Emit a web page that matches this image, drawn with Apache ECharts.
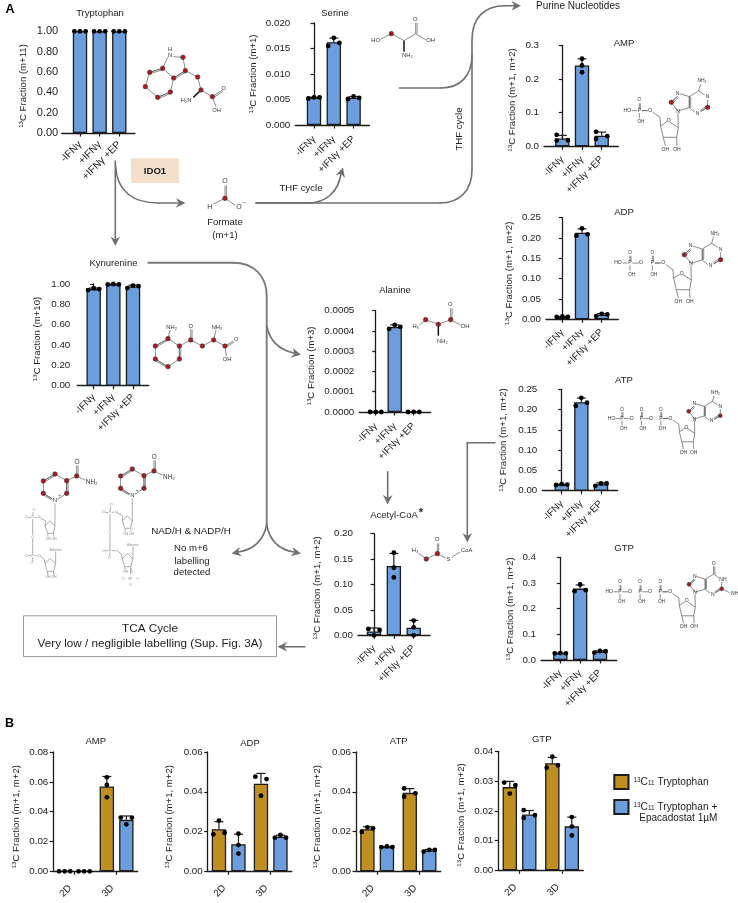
<!DOCTYPE html>
<html><head><meta charset="utf-8">
<style>html,body{margin:0;padding:0;background:#fff}#c{width:738px;height:903px}</style>
<script src="https://cdn.jsdelivr.net/npm/echarts@6/dist/echarts.min.js"></script>
</head><body><div id="c"></div>
<script>
// ---------- Data (three replicates per bar, left/centre/right) ----------
const conditionLabels = ['-IFNγ', '+IFNγ', '+IFNγ +EP'];
const cultureLabels = ['2D', '3D'];
const tryptophanValues = [[1, 1, 1], [1, 1, 1], [1, 1, 1]];
const serineValues = [[0.0052, 0.0054, 0.0054], [0.0155, 0.0171, 0.0161], [0.0051, 0.0056, 0.0053]];
const kynurenineValues = [[0.94, 0.96, 0.95], [0.995, 1.0, 0.995], [0.96, 0.985, 0.98]];
const alanineValues = [[0, 0, 0], [0.00041, 0.00043, 0.00042], [0, 0, 0]];
const acetylCoAValues = [[0.0125, 0.0, 0.0105], [0.1626, 0.133, 0.114], [0.029, 0.0157, 0.0]];
const ampValues = [[0.034, 0.017, 0.018], [0.26, 0.24, 0.22], [0.043, 0.022, 0.03]];
const adpValues = [[0.006, 0.007, 0.006], [0.2057, 0.2238, 0.209], [0.008, 0.0135, 0.012]];
const atpValues = [[0.014, 0.016, 0.015], [0.209, 0.229, 0.217], [0.012, 0.018, 0.018]];
const gtpValues = [[0.026, 0.027, 0.026], [0.268, 0.294, 0.272], [0.029, 0.035, 0.034]];
const ampTrpB = [[0, 0, 0], [0.063, 0.0579, 0.0496]];
const ampEpaB = [[0, 0, 0], [0.036, 0.0315, 0.036]];
const adpTrpB = [[0.0186, 0.0255, 0.0194], [0.0476, 0.038, 0.0464]];
const adpEpaB = [[0.0189, 0.0132, 0.0089], [0.0169, 0.0183, 0.0169]];
const atpTrpB = [[0.0198, 0.0221, 0.0216], [0.0417, 0.0375, 0.0392]];
const atpEpaB = [[0.0122, 0.0125, 0.0122], [0.0099, 0.0108, 0.0107]];
const gtpTrpB = [[0.0295, 0.0258, 0.0286], [0.0345, 0.0382, 0.0353]];
const gtpEpaB = [[0.0202, 0.0176, 0.0185], [0.0179, 0.0147, 0.0117]];
const seriesNameTrp = '13C11 Tryptophan';
const seriesNameEpa = '13C11 Tryptophan + Epacadostat 1µM';

// ---------- Layout and style ----------
const FONT = '"Liberation Sans", Arial, sans-serif';
const BLUE = '#6c9edd', GOLD = '#c08f22', INK = '#1c1c1c', GREY = '#707070';
const panelsA = [
  {t:'Tryptophan', v:tryptophanValues, m:'(m+11)', ymax:1, step:.2, d:2, l:61.7, tp:31.3, b:133, r:135, c:80, dc:19.65, tx:100, ty:13, nx:22, ny:86, fs:11, lm:3.5, xfs:10.2, xm:10},
  {t:'Serine', v:serineValues, m:'(m+1)', ymax:.02, step:.005, d:3, l:295.3, tp:23, b:125, r:369.5, c:314, dc:19.8, tx:335, ty:13, nx:252, ny:74, xm:12.5},
  {t:'Kynurenine', v:kynurenineValues, m:'(m+10)', ymax:1, step:.2, d:2, l:77.3, tp:284, b:385.7, r:148.7, c:93.7, dc:19.65, tx:113.5, ty:262.7, nx:36.7, ny:339, lm:7, xm:10},
  {t:'Alanine', v:alanineValues, m:'(m+3)', ymax:.0005, step:.0001, d:4, l:359.3, tp:310.7, b:412, r:430.7, c:375.7, dc:19, tx:395, ty:289.7, nx:310, ny:366, xm:12.5},
  {t:'Acetyl-CoA', v:acetylCoAValues, m:'(m+1, m+2)', ymax:.2, step:.05, d:2, l:358, tp:533.7, b:635.3, r:430, c:374, dc:19.85, tx:394, ty:515, nx:316.7, ny:588},
  {t:'AMP', v:ampValues, m:'(m+1, m+2)', ymax:.3, step:.1, d:1, l:544, tp:45.3, b:146.3, r:618.3, c:562.3, dc:19.7, tx:624, ty:42.7, nx:511.7, ny:100, off:{0:[-1,-1,1],2:[-1,-1,1]}},
  {t:'ADP', v:adpValues, m:'(m+1, m+2)', ymax:.25, step:.05, d:2, l:546, tp:217.7, b:319.3, r:618.3, c:562.3, dc:19.7, tx:624, ty:211.7, nx:508.3, ny:273.3},
  {t:'ATP', v:atpValues, m:'(m+1, m+2)', ymax:.25, step:.05, d:2, l:542.3, tp:389.3, b:490.7, r:617.7, c:561.7, dc:19.65, tx:624, ty:380, nx:502.7, ny:440},
  {t:'GTP', v:gtpValues, m:'(m+1, m+2)', ymax:.4, step:.1, d:1, l:541, tp:557.3, b:660, r:616.7, c:560.3, dc:19.85, tx:624, ty:547.7, nx:509, ny:609}
];
const panelsB = [
  {t:'AMP', a:ampTrpB, e:ampEpaB, ymax:.08, step:.02, l:53.3, tp:752, b:871.3, r:137.7, tx:95.7, ty:741, nx:15, ny:816.7},
  {t:'ADP', a:adpTrpB, e:adpEpaB, ymax:.06, step:.02, l:207.7, tp:752, b:871.3, r:291.7, tx:250, ty:742.7, nx:168.3, ny:816.7},
  {t:'ATP', a:atpTrpB, e:atpEpaB, ymax:.06, step:.02, l:356, tp:752, b:871.3, r:440.7, tx:398.7, ty:741, nx:316.7, ny:816.7, offA:{1:[-1,-1,1]}},
  {t:'GTP', a:gtpTrpB, e:gtpEpaB, ymax:.04, step:.01, l:498.3, tp:751.3, b:870.3, r:583.3, tx:541.7, ty:739.3, nx:460, ny:815, offE:{0:[-1,-1,1]}}
];

const mean = a => a.reduce((s, x) => s + x, 0) / a.length;
const sd = a => { const m = mean(a); return Math.sqrt(a.reduce((s, x) => s + (x - m) * (x - m), 0) / (a.length - 1)); };

// whisker (upward only) and the three replicate dots, placed through the axes
function dotsRender(shiftPx, overrides) {
  return function (params, api) {
    const x = api.value(0);
    const vals = [api.value(1), api.value(2), api.value(3)];
    const m = mean(vals), s = sd(vals);
    const p0 = api.coord([x, m]), p1 = api.coord([x, m + s]);
    const cx = p0[0] + shiftPx, kids = [];
    if (s > 0) {
      const ls = {stroke: INK, lineWidth: 1.2};
      kids.push({type: 'line', shape: {x1: cx, y1: p0[1], x2: cx, y2: p1[1]}, style: ls});
      kids.push({type: 'line', shape: {x1: cx - 4.5, y1: p1[1], x2: cx + 4.5, y2: p1[1]}, style: ls});
    }
    const ys = vals.map(v => api.coord([x, v])[1]);
    const sorted = ys.slice().sort((a, b) => a - b);
    const stacked = sorted[1] - sorted[0] >= 4.8 && sorted[2] - sorted[1] >= 4.8;
    const ov = overrides && overrides[params.dataIndex];
    ys.forEach((y, i) => {
      const o = ov ? ov[i] : (stacked ? 0 : i - 1);
      kids.push({type: 'circle', shape: {cx: cx + o * 5.6, cy: y, r: 2.4}, style: {fill: '#000'}});
    });
    return {type: 'group', children: kids};
  };
}

const grids = [], xAxes = [], yAxes = [], series = [], titles = [];
function yAxisOf(p, i, digits) {
  const shift = (p.tp + p.b) / 2 - p.ny;
  return {gridIndex: i, type: 'value', min: 0, max: p.ymax, interval: p.step,
    name: '{s|13}C Fraction ' + (p.m || '(m+1, m+2)'), nameLocation: 'middle', nameGap: p.l - p.nx - 6, nameRotate: 90,
    nameTextStyle: {fontFamily: FONT, fontSize: 9.6, color: INK, padding: shift > 0 ? [0, 0, 0, 2 * shift] : [0, 2 * -shift, 0, 0],
      rich: {s: {fontFamily: FONT, fontSize: 6.2, color: INK, padding: [0, 0, 4, 0]}}},
    axisLine: {show: true, lineStyle: {color: INK, width: 1.3}},
    axisTick: {show: true, length: 3.5, lineStyle: {color: INK, width: 1.2}},
    splitLine: {show: false},
    axisLabel: {fontFamily: FONT, fontSize: p.fs || 9.8, color: INK, margin: p.lm || 5, formatter: v => v.toFixed(digits)}};
}
const barItem = c => ({color: c, borderColor: INK, borderWidth: 1.3});
const titleOf = p => ({text: p.t, left: p.tx, top: p.ty - 4.5, textAlign: 'center', padding: 0, textStyle: {fontFamily: FONT, fontSize: 9.5, fontWeight: 'normal', color: INK}});

panelsA.forEach(p => {
  const i = grids.length;
  grids.push({left: p.l, top: p.tp, width: p.r - p.l, height: p.b - p.tp});
  titles.push(titleOf(p));
  xAxes.push({gridIndex: i, type: 'value', min: (p.l - p.c) / p.dc, max: (p.r - p.c) / p.dc,
    axisLine: {show: true, onZero: false, lineStyle: {color: INK, width: 1.3}},
    axisTick: {show: true, length: 3.5, customValues: [0, 1, 2], lineStyle: {color: INK, width: 1.2}},
    splitLine: {show: false},
    axisLabel: {customValues: [0, 1, 2], rotate: 45, align: 'right', verticalAlign: 'middle', margin: p.xm || 11.5, fontFamily: FONT, fontSize: p.xfs || 9.8, color: INK, hideOverlap: false, showMinLabel: true, showMaxLabel: true,
      formatter: v => conditionLabels[Math.round(v)]}});
  yAxes.push(yAxisOf(p, i, p.d));
  series.push({type: 'bar', name: p.t, xAxisIndex: i, yAxisIndex: i, barWidth: 14.4, itemStyle: barItem(BLUE),
    data: p.v.map((r, k) => [k, mean(r)])});
  series.push({type: 'custom', name: p.t + ' replicates', xAxisIndex: i, yAxisIndex: i, renderItem: dotsRender(0, p.off), z: 5,
    encode: {x: 0, y: [1, 2, 3]}, data: p.v.map((r, k) => [k, r[0], r[1], r[2]])});
});
const B_BAR = 14.4, B_SHIFT = 9.75;
panelsB.forEach(p => {
  const i = grids.length;
  grids.push({left: p.l, top: p.tp, width: p.r - p.l, height: p.b - p.tp});
  titles.push(titleOf(p));
  xAxes.push({gridIndex: i, type: 'category', data: cultureLabels,
    axisLine: {show: true, lineStyle: {color: INK, width: 1.3}},
    axisTick: {show: true, alignWithLabel: true, length: 3.5, lineStyle: {color: INK, width: 1.2}},
    axisLabel: {rotate: 45, interval: 0, align: 'right', verticalAlign: 'middle', padding: [0, 6, 0, 0], margin: 11, fontFamily: FONT, fontSize: 9.8, color: INK}});
  yAxes.push(yAxisOf(p, i, 2));
  [[seriesNameTrp, p.a, GOLD], [seriesNameEpa, p.e, BLUE]].forEach(([nm, rows, col]) => {
    series.push({type: 'bar', name: nm, xAxisIndex: i, yAxisIndex: i, barWidth: B_BAR, barGap: (2 * B_SHIFT - B_BAR) / B_BAR * 100 + '%', itemStyle: barItem(col),
      data: rows.map(r => mean(r))});
  });
  [[p.a, -B_SHIFT, p.offA], [p.e, B_SHIFT, p.offE]].forEach(([rows, sh, ov]) => {
    series.push({type: 'custom', name: p.t + ' replicates', xAxisIndex: i, yAxisIndex: i, renderItem: dotsRender(sh, ov), z: 5,
      encode: {x: 0, y: [1, 2, 3]}, data: rows.map((r, k) => [k, r[0], r[1], r[2]])});
  });
});

// ---------- Pathway annotation (arrows, labels, structure sketches) ----------
const gfx = [];
function txt(s, x, y, o) {
  o = o || {};
  gfx.push({type: 'text', x, y, rotation: o.rot || 0, silent: true, z: 20, style: {text: s, fill: o.fill || INK,
    font: (o.weight ? o.weight + ' ' : '') + (o.size || 9.6) + 'px ' + FONT, align: o.align || 'center', verticalAlign: 'middle', textAlign: o.align || 'center', textVerticalAlign: 'middle'}});
}
// stroke a route written as M / L / C commands, using line and bezierCurve elements
function path(d, o) {
  o = o || {};
  const style = {fill: null, stroke: o.stroke || GREY, lineWidth: o.w || 1.6, lineCap: 'round'};
  const toks = d.match(/[MLC]|-?[\d.]+/g);
  let i = 0, cx = 0, cy = 0;
  const num = () => parseFloat(toks[i++]);
  let cmd = null;
  while (i < toks.length) {
    if (/[MLC]/.test(toks[i])) cmd = toks[i++];
    if (cmd === 'M') { cx = num(); cy = num(); }
    else if (cmd === 'L') { const x = num(), y = num(); gfx.push({type: 'line', silent: true, z: 15, shape: {x1: cx, y1: cy, x2: x, y2: y}, style}); cx = x; cy = y; }
    else { const a = num(), b = num(), c = num(), e = num(), x = num(), y = num();
      gfx.push({type: 'bezierCurve', silent: true, z: 15, shape: {x1: cx, y1: cy, cpx1: a, cpy1: b, cpx2: c, cpy2: e, x2: x, y2: y}, style}); cx = x; cy = y; }
  }
}
function head(x, y, dx, dy) {
  const n = Math.hypot(dx, dy), ux = dx / n, uy = dy / n, L = 9.5, H = 4.8, N = 6.6;
  const bx = x - ux * L, by = y - uy * L, mx = x - ux * N, my = y - uy * N;
  gfx.push({type: 'polygon', silent: true, z: 15, shape: {points: [[x, y], [bx - uy * H, by + ux * H], [mx, my], [bx + uy * H, by - ux * H]]}, style: {fill: GREY, stroke: null}});
}
// arrows
path('M115.3 161L115.3 240'); head(115.3, 246, 0, 1);
path('M115.5 166C117 192 134 203 158 203L180 203'); head(185.5, 203, 1, 0);
path('M256 203L308 203C326 203 338 192 341 174'); head(343, 167.5, 0.3, -1);
path('M256 203L440 203C460 203 472 190 472 170L472 40C472 18 484 5.7 505 5.7L515 5.7'); head(521, 5.7, 1, 0);
path('M399.3 88L441 88C460 88 472 76 472 55');
path('M148.3 262.7L233 262.7C254 262.7 266.7 276 266.7 296L266.7 525', {w: 1.9, stroke: '#7c7c7c'});
path('M266.7 326C270 342 280 350 294 353'); head(301, 354.8, 1, 0.22);
path('M266.7 525C263 542 252 550 238 552'); head(231.5, 553.5, -1, 0.2);
path('M266.7 525C270 542 281 550 294 552'); head(301, 553.5, 1, 0.2);
path('M305 646.7L284 646.7'); head(277.5, 646.7, -1, 0);
path('M387.7 471.7L387.7 498'); head(387.7, 504.5, 0, 1);
path('M495 442.7L467.3 442.7L467.3 536'); head(467.3, 542.5, 0, 1);
// boxes
gfx.push({type: 'rect', silent: true, z: 12, shape: {x: 131, y: 158.3, width: 48, height: 24.7}, style: {fill: '#f3dfca', stroke: null}});
txt('IDO1', 155, 171, {weight: 'bold', size: 9.6});
gfx.push({type: 'rect', silent: true, z: 12, shape: {x: 23.5, y: 615.8, width: 253, height: 40.8}, style: {fill: '#fff', stroke: '#9a9a9a', lineWidth: 1}});
txt('TCA Cycle', 150, 629, {size: 11.7});
txt('Very low / negligible labelling (Sup. Fig. 3A)', 150, 643.7, {size: 11.7});
// labels
txt('A', 10, 10, {weight: 'bold', size: 12.5, fill: '#000'});
txt('B', 9.5, 723.5, {weight: 'bold', size: 12.5, fill: '#000'});
txt('Formate', 225, 222, {size: 9.6});
txt('(m+1)', 225, 235, {size: 9.6});
txt('THF cycle', 301, 188, {size: 9.6});
txt('THF cycle', 459, 129, {size: 9.6, rot: Math.PI / 2});
txt('Purine Nucleotides', 578, 6, {size: 10});
txt('NAD/H & NADP/H', 191, 531, {size: 9.8});
txt('No m+6', 191, 548.7, {size: 9.6});
txt('labelling', 192, 561.7, {size: 9.6});
txt('detected', 192, 572.7, {size: 9.6});
txt('*', 421, 513, {size: 11, weight: 'bold'});
txt('Epacadostat 1µM', 639.3, 817.8, {size: 10, align: 'left', fill: '#222'});

// small structure-drawing kit: coordinates are relative to an anchor, in thirds of a pixel
function Kit(ox, oy, s, col) {
  s = s || 1;
  const X = x => ox + x * s / 3, Y = y => oy + y * s / 3;
  const line = (a, b, c, d, w, k) => gfx.push({type: 'line', silent: true, z: 16, shape: {x1: X(a), y1: Y(b), x2: X(c), y2: Y(d)}, style: {stroke: k || col || '#5a5a5a', lineWidth: w || 0.7}});
  const api = {
    b: (...pts) => { for (let i = 0; i + 3 < pts.length; i += 4) line(pts[i], pts[i + 1], pts[i + 2], pts[i + 3]); return api; },
    d: (a, b, c, e) => { const n = Math.hypot(c - a, e - b) || 1, px = -(e - b) / n * 4.2, py = (c - a) / n * 4.2; line(a, b, c, e); line(a + px, b + py, c + px, e + py); return api; },
    w: (a, b, c, e) => { line(a, b, c, e, 1.5, '#111'); return api; },
    r: (...pts) => { for (let i = 0; i + 1 < pts.length; i += 2) gfx.push({type: 'circle', silent: true, z: 18, shape: {cx: X(pts[i]), cy: Y(pts[i + 1]), r: 2.3 * (s < 1 ? 0.85 : 1)}, style: {fill: '#a81c1c', stroke: '#333', lineWidth: 0.5}}); return api; },
    t: (str, x, y, size) => { txt(str, X(x), Y(y), {size: size || 5.8, fill: col || '#333'}); return api; }
  };
  return api;
}
// Tryptophan
Kit(0, 0).b(449,217,488,205, 488,205,521,234, 521,234,511,276, 511,276,473,292, 473,292,436,260, 436,260,449,217, 488,205,503,172, 520,170,549,172, 549,172,556,212, 556,212,521,234, 556,212,593,231, 593,231,603,270, 603,270,637,290, 637,290,648,320)
  .d(449,217,488,205).d(473,292,511,276).d(521,234,556,212).d(637,290,667,270)
  .r(449,217,488,205,521,234,511,276,473,292,436,260,549,172,556,212,593,231,603,270,637,290)
  .t('H',510,147).t('N',510,167).t('H₂N',558,302).t('O',671,264).t('OH',650,331);
Kit(0,0).w(603,270,580,292);
// Formate
Kit(0,0).d(675,595,675,556).b(675,595,640,612,675,595,705,615).r(675,595).t('O',675,543,7).t('H',629,622,7).t('O',717,622,7).t('−',733,606,6);
// Serine
Kit(370,0).b(32,118,64,101, 64,101,102,122, 102,122,137,101, 137,101,168,120).d(137,101,137,68).r(64,101).t('HO',17,122).t('O',136,57).t('OH',182,122).t('NH₂',112,167);
Kit(370,0).w(102,122,102,155);
// Kynurenine
Kit(0,250).b(504,266,538,288, 538,288,538,327, 538,327,504,350, 504,350,466,327, 466,327,466,288, 466,288,504,266, 504,266,510,240, 538,288,572,270, 572,270,607,288, 607,288,641,270, 641,270,648,240, 641,270,675,288, 675,288,679,318)
  .d(466,327,504,350).d(466,288,504,266).d(538,327,538,288).d(572,270,572,238).d(675,288,700,273)
  .r(504,266,538,288,538,327,504,350,466,327,466,288,572,270,607,288,641,270,675,288)
  .t('NH₂',515,231).t('O',572,229).t('NH₂',651,231).t('O',709,268).t('OH',681,328);
// Alanine
Kit(270,270).b(448,165,467,149, 467,149,505,163, 505,163,542,149, 542,149,572,165).d(542,149,542,115).r(467,149,505,163,542,149).t('H₃',437,170).t('O',541,104).t('OH',585,170).t('NH₂',517,213);
Kit(270,270).w(505,163,505,197);
// Acetyl-CoA
Kit(270,270).b(446,850,469,867, 469,867,502,851, 502,851,527,864, 545,862,570,846).d(502,851,502,820).r(469,867,502,851).t('H₃',435,840).t('O',502,809).t('S',535,868).t('CoA',590,840);
// Purine nucleotides
function nucleotide(ox, oy, s, nP, guanine) {
  const k = Kit(ox, oy, s, null);
  k.b(18,-18,0,0, 0,0,20,26, 20,26,54,16, 54,16,54,-17, 54,-17,25,-26, 54,-17,82,-34, 82,-34,100,-22, 109,-8,109,15, 109,15,88,28, 70,30,54,16, 21,76,20,32, 21,76,-3,60, -13,58,-32,71, -32,71,-24,105, -24,105,16,105, 16,105,21,76, -32,71,-34,45, -34,45,-55,30, -72,25,-88,25, -24,105,-18,130, 16,105,17,130);
  k.d(54,16,54,-17).d(0,0,18,-18).d(109,15,88,28);
  k.r(0,0,109,15).t('N',19,-26,5).t('N',20,27,5).t('N',79,33,5).t(guanine ? 'NH' : 'N',guanine ? 113 : 109,-16,5).t('O',-8,56,5).t('OH',-18,141,5).t('OH',17,141,5);
  if (guanine) { k.d(82,-34,82,-60).t('O',82,-70,5).b(109,15,135,28).t('NH₂',155,32,5); }
  else { k.b(82,-34,88,-54).t('NH₂',92,-64,5); }
  let px = -96;
  for (let i = 0; i < nP; i++) {
    k.t('P', px, 25, 5).t('O', px, -7, 4.6).t('OH', px + 5, 59, 4.6);
    k.b(px, 19, px, 3, px, 32, px, 48).b(px + 3, 21, px + 3, 3);
    const oxy = px + 33;
    k.t('O', oxy, 25, 5);
    k.b(px + 7, 25, oxy - 6, 25);
    if (i < nP - 1) px -= 67;
  }
  k.b(px - 22, 25, px - 7, 25).t('HO', px - 36, 25, 5);
}
nucleotide(671.3, 102.3, 1, 1, false);
nucleotide(684.3, 254.7, 1, 2, false);
nucleotide(688.7, 411.3, 0.87, 3, false);
nucleotide(689, 584.3, 0.9, 3, true);
// NAD / NADP
function nadRing(ox, oy) {
  Kit(ox, oy).b(120,72,155,92, 155,92,155,130, 155,130,128,148, 112,148,85,130, 85,130,85,93, 85,93,120,72, 155,92,185,78, 185,78,210,90)
    .d(85,130,112,146).d(85,93,120,72).d(155,130,155,92).d(185,78,185,46)
    .r(120,72,155,92,155,130,85,130,85,93,185,78).t('N',120,152,6).t('+',134,137,4.5).t('O',186,36,6.4).t('NH₂',230,96,6.4);
}
nadRing(15, 450); nadRing(92.3, 445);
function faint(ox, oy, extra) {
  const c = '#8c8c8c', k = Kit(ox, oy, 1, c);
  k.b(120,160,120,228, 120,228,115,250, 115,250,98,250, 98,250,90,228, 90,228,105,212, 105,212,120,228, 90,228,92,213, 92,213,72,202, 66,202,58,202, 48,202,38,202, 53,196,55,186, 53,208,53,255, 53,265,53,312, 53,322,52,333, 48,317,38,317, 58,317,68,317, 76,318,88,328, 88,328,90,342, 90,342,105,325, 105,325,122,342, 122,342,115,365, 115,365,97,365, 97,365,90,342, 122,305,122,342, 98,250,99,260, 115,250,117,260, 97,365,99,376, 115,365,117,376);
  k.t('O⁻',58,180,3.5).t('O',33,202,3.5).t('P',53,202,3.5).t('O',72,202,3.5).t('O',53,260,3.5).t('P',53,317,3.5).t('O',33,317,3.5).t('O',72,317,3.5).t('O⁻',52,338,3.5).t('OH',99,266,3.5).t('OH',117,266,3.5).t('OH',99,382,3.5).t(extra ? 'O' : 'OH',117,382,3.5).t('Adenine',122,300,3.2);
  if (extra) { k.b(115,370,115,388).t('O',112,402,3.5).t('O',93,402,3.5).t('P',115,402,3.5).t('O',136,402,3.5).t('O⁻',115,420,3.5); }
}
faint(15, 450, false); faint(92.3, 445, true);

const option = {
  animation: false,
  backgroundColor: '#fff',
  textStyle: {fontFamily: FONT},
  title: titles,
  grid: grids,
  xAxis: xAxes,
  yAxis: yAxes,
  series,
  legend: {left: 613.3, top: 774, orient: 'vertical', itemWidth: 14.2, itemHeight: 14, itemGap: 9, selectedMode: false, icon: 'rect',
    data: [seriesNameTrp, seriesNameEpa], padding: 0,
    formatter: n => n === seriesNameTrp ? '{s|13}C{u|11} Tryptophan' : '{s|13}C{u|11} Tryptophan +',
    textStyle: {fontFamily: FONT, fontSize: 10.2, color: '#222', rich: {
      s: {fontFamily: FONT, fontSize: 6.4, color: '#222', padding: [0, 0, 4, 0]},
      u: {fontFamily: FONT, fontSize: 6.4, color: '#222', padding: [3, 0, 0, 0]}}}},
  graphic: {elements: gfx}
};
const chart = echarts.init(document.getElementById('c'), null, {renderer: 'canvas'});
chart.setOption(option);
</script></body></html>
